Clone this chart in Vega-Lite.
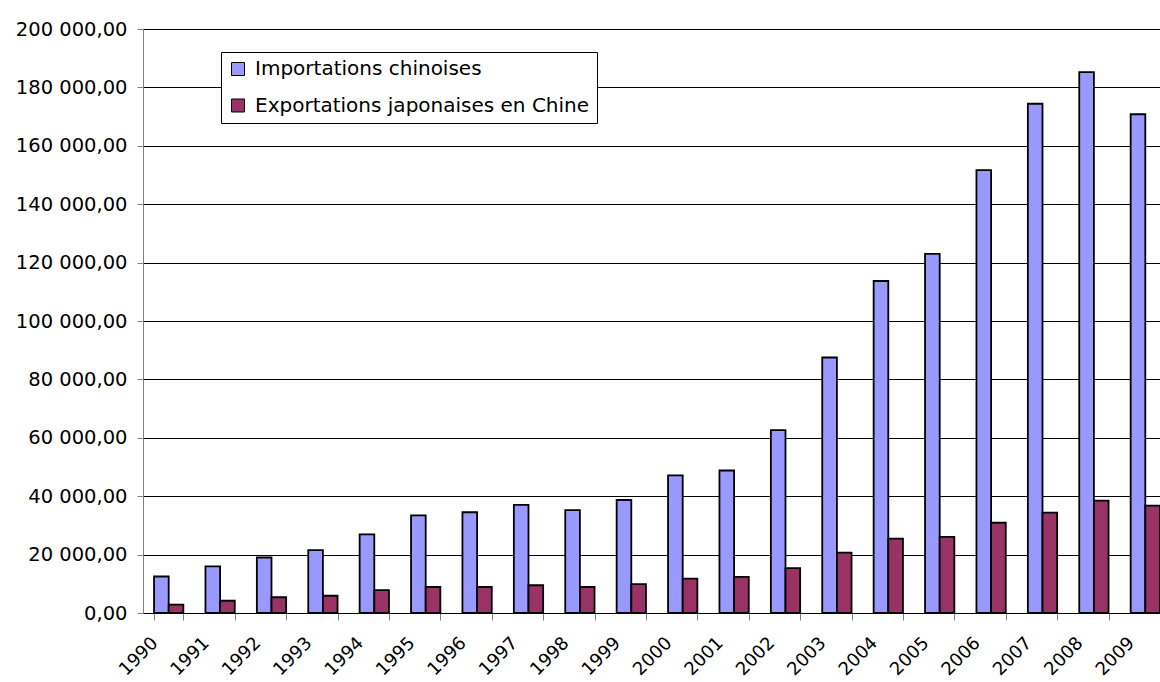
{
  "$schema": "https://vega.github.io/schema/vega-lite/v6.json",
  "autosize": "none",
  "padding": {"left": 143, "top": 29, "right": 0, "bottom": 69},
  "width": 1017,
  "height": 584,
  "config": {
    "font": "DejaVu Sans",
    "view": {"stroke": null},
    "locale": {"number": {"decimal": ",", "thousands": " ", "grouping": [3], "currency": ["", " €"]}}
  },
  "data": {
    "values": [
      {"annee": "1990", "serie": "Importations chinoises", "valeur": 12500},
      {"annee": "1991", "serie": "Importations chinoises", "valeur": 16000},
      {"annee": "1992", "serie": "Importations chinoises", "valeur": 19000},
      {"annee": "1993", "serie": "Importations chinoises", "valeur": 21500},
      {"annee": "1994", "serie": "Importations chinoises", "valeur": 26900},
      {"annee": "1995", "serie": "Importations chinoises", "valeur": 33400},
      {"annee": "1996", "serie": "Importations chinoises", "valeur": 34500},
      {"annee": "1997", "serie": "Importations chinoises", "valeur": 37000},
      {"annee": "1998", "serie": "Importations chinoises", "valeur": 35200},
      {"annee": "1999", "serie": "Importations chinoises", "valeur": 38700},
      {"annee": "2000", "serie": "Importations chinoises", "valeur": 47100},
      {"annee": "2001", "serie": "Importations chinoises", "valeur": 48800},
      {"annee": "2002", "serie": "Importations chinoises", "valeur": 62600},
      {"annee": "2003", "serie": "Importations chinoises", "valeur": 87500},
      {"annee": "2004", "serie": "Importations chinoises", "valeur": 113700},
      {"annee": "2005", "serie": "Importations chinoises", "valeur": 123000},
      {"annee": "2006", "serie": "Importations chinoises", "valeur": 151700},
      {"annee": "2007", "serie": "Importations chinoises", "valeur": 174400},
      {"annee": "2008", "serie": "Importations chinoises", "valeur": 185200},
      {"annee": "2009", "serie": "Importations chinoises", "valeur": 170800},
      {"annee": "1990", "serie": "Exportations japonaises en Chine", "valeur": 2900},
      {"annee": "1991", "serie": "Exportations japonaises en Chine", "valeur": 4200},
      {"annee": "1992", "serie": "Exportations japonaises en Chine", "valeur": 5400},
      {"annee": "1993", "serie": "Exportations japonaises en Chine", "valeur": 5900},
      {"annee": "1994", "serie": "Exportations japonaises en Chine", "valeur": 7800},
      {"annee": "1995", "serie": "Exportations japonaises en Chine", "valeur": 8900},
      {"annee": "1996", "serie": "Exportations japonaises en Chine", "valeur": 8900},
      {"annee": "1997", "serie": "Exportations japonaises en Chine", "valeur": 9500},
      {"annee": "1998", "serie": "Exportations japonaises en Chine", "valeur": 8900},
      {"annee": "1999", "serie": "Exportations japonaises en Chine", "valeur": 9900},
      {"annee": "2000", "serie": "Exportations japonaises en Chine", "valeur": 11800},
      {"annee": "2001", "serie": "Exportations japonaises en Chine", "valeur": 12400},
      {"annee": "2002", "serie": "Exportations japonaises en Chine", "valeur": 15400},
      {"annee": "2003", "serie": "Exportations japonaises en Chine", "valeur": 20700},
      {"annee": "2004", "serie": "Exportations japonaises en Chine", "valeur": 25500},
      {"annee": "2005", "serie": "Exportations japonaises en Chine", "valeur": 26100},
      {"annee": "2006", "serie": "Exportations japonaises en Chine", "valeur": 30900},
      {"annee": "2007", "serie": "Exportations japonaises en Chine", "valeur": 34400},
      {"annee": "2008", "serie": "Exportations japonaises en Chine", "valeur": 38500},
      {"annee": "2009", "serie": "Exportations japonaises en Chine", "valeur": 36800}
    ]
  },
  "mark": {"type": "bar", "stroke": "#000000", "strokeWidth": 1.8},
  "encoding": {
    "x": {
      "field": "annee",
      "type": "ordinal",
      "scale": {"range": [0, 1028], "paddingInner": 0.43, "paddingOuter": 0.215},
      "axis": {
        "title": null,
        "tickBand": "extent",
        "labelAngle": -45,
        "labelAlign": "right",
        "labelBaseline": "middle",
        "labelOffset": -14,
        "labelPadding": 20,
        "labelFontSize": 18,
        "labelColor": "#000000",
        "tickSize": 7,
        "tickColor": "#808080",
        "domainColor": "#000000",
        "grid": false
      }
    },
    "xOffset": {
      "field": "serie",
      "type": "nominal",
      "sort": ["Importations chinoises", "Exportations japonaises en Chine"]
    },
    "y": {
      "field": "valeur",
      "type": "quantitative",
      "scale": {"domain": [0, 200000], "nice": false},
      "axis": {
        "title": null,
        "values": [0, 20000, 40000, 60000, 80000, 100000, 120000, 140000, 160000, 180000, 200000],
        "format": ",.2f",
        "labelFontSize": 19.5,
        "labelColor": "#000000",
        "labelPadding": 10,
        "tickSize": 6,
        "tickColor": "#808080",
        "domainColor": "#808080",
        "grid": true,
        "gridColor": "#000000",
        "gridWidth": 1
      }
    },
    "color": {
      "field": "serie",
      "type": "nominal",
      "sort": ["Importations chinoises", "Exportations japonaises en Chine"],
      "scale": {"domain": ["Importations chinoises", "Exportations japonaises en Chine"], "range": ["#9999FF", "#993366"]},
      "legend": {
        "title": null,
        "orient": "none",
        "legendX": 78,
        "legendY": 23,
        "fillColor": "#FFFFFF",
        "strokeColor": "#000000",
        "padding": 7,
        "labelFontSize": 20,
        "labelLimit": 0,
        "labelColor": "#000000",
        "labelOffset": 7,
        "symbolType": "square",
        "symbolSize": 169,
        "symbolStrokeColor": "#000000",
        "symbolStrokeWidth": 1,
        "symbolOpacity": 1,
        "rowPadding": 16.5
      }
    }
  }
}
